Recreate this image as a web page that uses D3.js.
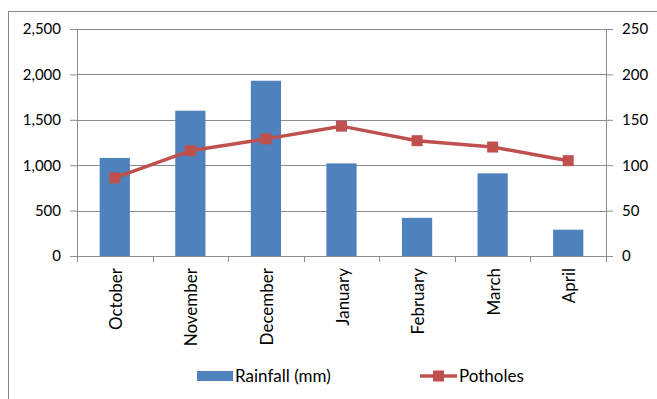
<!DOCTYPE html>
<html>
<head>
<meta charset="utf-8">
<script src="https://cdn.jsdelivr.net/npm/d3@7"></script>
<style>
  body { margin: 0; background: #fff; }
  svg text { font-family: "Lato", "Open Sans", sans-serif; fill: #000; }
</style>
</head>
<body>
<div id="chart"></div>
<script>
// data
var months = ["October", "November", "December", "January", "February", "March", "April"];
var rainfall = [1080, 1600, 1930, 1020, 420, 910, 290];
var potholes = [86, 116, 129, 143, 127, 120, 105];
var left_ticks = [0, 500, 1000, 1500, 2000, 2500];
var right_ticks = [0, 50, 100, 150, 200, 250];

var bar_color = '#4f81bd';
var line_color = '#c0504d';
var grid_color = '#8c8c8c';
var tick_font = '15px';
var label_font = '17px';

var W = 657, H = 399;
var margin = {top: 29, right: 51, bottom: 143, left: 77},
    width = W - margin.left - margin.right,
    height = H - margin.top - margin.bottom;

var svg = d3.select('#chart').append('svg')
  .attr('width', W)
  .attr('height', H);

// chart area border (cropped on right and bottom)
svg.append('rect')
  .attr('x', 8.5).attr('y', 11.5)
  .attr('width', W).attr('height', H)
  .attr('fill', 'none')
  .attr('stroke', '#888')
  .attr('stroke-width', 1);

var g = svg.append('g')
  .attr('transform', 'translate(' + margin.left + ',' + margin.top + ')');

var x = d3.scaleBand().domain(months).range([0, width]).paddingInner(0.6).paddingOuter(0.3);
var y = d3.scaleLinear().domain([0, 2500]).range([height, 0]);
var y2 = d3.scaleLinear().domain([0, 250]).range([height, 0]);

// gridlines
g.selectAll('.grid')
  .data(left_ticks)
  .enter().append('line')
  .attr('x1', 0).attr('x2', width)
  .attr('y1', function(d){ return Math.round(y(d)) + 0.5; })
  .attr('y2', function(d){ return Math.round(y(d)) + 0.5; })
  .attr('stroke', grid_color)
  .attr('stroke-width', 1);

// bars
g.selectAll('.bar')
  .data(rainfall)
  .enter().append('rect')
  .attr('x', function(d, i){ return x(months[i]); })
  .attr('y', function(d){ return y(d); })
  .attr('width', x.bandwidth())
  .attr('height', function(d){ return height - y(d); })
  .attr('fill', bar_color);

// left axis
var left_axis = g.append('g')
  .call(d3.axisLeft(y).tickValues(left_ticks).tickSize(7).tickPadding(9).tickFormat(d3.format(',')));
// right axis
var right_axis = g.append('g')
  .attr('transform', 'translate(' + width + ',0)')
  .call(d3.axisRight(y2).tickValues(right_ticks).tickSize(7).tickPadding(9));

// bottom axis, ticks at category boundaries
var bounds = d3.range(months.length + 1).map(function(i){ return i * width / months.length; });
var bottom = g.append('g').attr('transform', 'translate(0,' + height + ')');
bottom.append('line')
  .attr('x1', 0).attr('x2', width).attr('y1', 0.5).attr('y2', 0.5)
  .attr('stroke', grid_color);
bottom.selectAll('.btick')
  .data(bounds)
  .enter().append('line')
  .attr('x1', function(d){ return Math.round(d) + 0.5; })
  .attr('x2', function(d){ return Math.round(d) + 0.5; })
  .attr('y1', 0).attr('y2', 6)
  .attr('stroke', grid_color);
bottom.selectAll('.mlabel')
  .data(months)
  .enter().append('text')
  .attr('transform', function(d){
    return 'translate(' + (x(d) + x.bandwidth() / 2 + 7) + ',12) rotate(-90)';
  })
  .attr('text-anchor', 'end')
  .style('font-size', label_font)
  .text(function(d){ return d; });

[left_axis, right_axis].forEach(function(a){
  a.select('.domain').attr('stroke', grid_color);
  a.selectAll('.tick line').attr('stroke', grid_color);
  a.selectAll('.tick text').style('font-size', tick_font).style('font-family', 'Lato, sans-serif');
});

// potholes line
var line = d3.line()
  .x(function(d, i){ return x(months[i]) + x.bandwidth() / 2; })
  .y(function(d){ return y2(d); });

g.append('path')
  .datum(potholes)
  .attr('d', line)
  .attr('fill', 'none')
  .attr('stroke', line_color)
  .attr('stroke-width', 3.5);

var ms = 11;
g.selectAll('.marker')
  .data(potholes)
  .enter().append('rect')
  .attr('x', function(d, i){ return x(months[i]) + x.bandwidth() / 2 - ms / 2; })
  .attr('y', function(d){ return y2(d) - ms / 2; })
  .attr('width', ms).attr('height', ms)
  .attr('fill', line_color);

// legend
var legend = svg.append('g').attr('transform', 'translate(0,376)');
legend.append('rect')
  .attr('x', 197).attr('y', -5).attr('width', 36).attr('height', 10)
  .attr('fill', bar_color);
legend.append('text')
  .attr('x', 235).attr('y', 6)
  .style('font-size', label_font)
  .text('Rainfall (mm)');
legend.append('line')
  .attr('x1', 420).attr('x2', 457).attr('y1', 0).attr('y2', 0)
  .attr('stroke', line_color).attr('stroke-width', 3.5);
legend.append('rect')
  .attr('x', 433).attr('y', -5.5).attr('width', 11).attr('height', 11)
  .attr('fill', line_color);
legend.append('text')
  .attr('x', 459).attr('y', 6)
  .style('font-size', label_font)
  .text('Potholes');
</script>
</body>
</html>
